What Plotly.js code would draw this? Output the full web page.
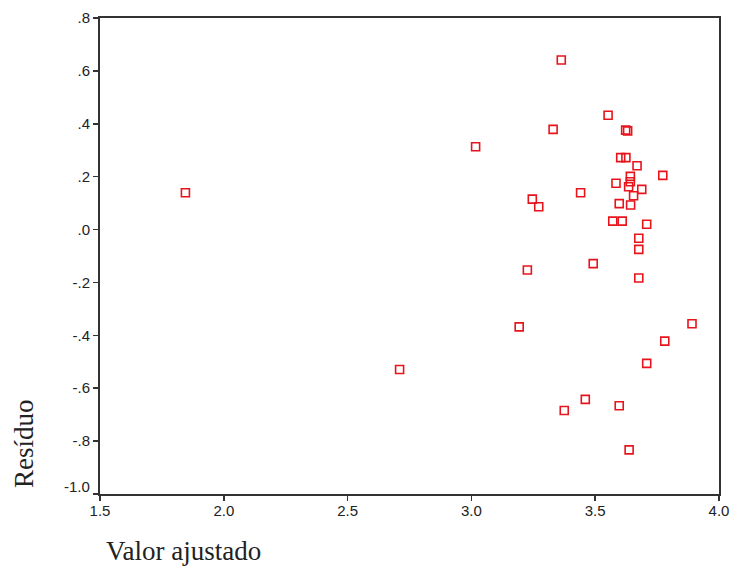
<!DOCTYPE html>
<html>
<head>
<meta charset="utf-8">
<script src="https://cdn.plot.ly/plotly-3.0.1.min.js"></script>
<style>
  html, body { margin: 0; padding: 0; background: #fff; }
  #chart { width: 733px; height: 567px; }
</style>
</head>
<body>
<div id="chart"></div>
<script>
// Fitted values (x) and residuals (y) for each observation
const fittedValues = [
  1.845, 2.710, 3.017, 3.363, 3.330, 3.552, 3.623, 3.631, 3.603, 3.624,
  3.669, 3.773, 3.642, 3.642, 3.584, 3.635, 3.688, 3.441, 3.655, 3.246,
  3.597, 3.643, 3.272, 3.571, 3.609, 3.708, 3.676, 3.676, 3.492, 3.226,
  3.676, 3.891, 3.781, 3.708, 3.193, 3.460, 3.597, 3.375, 3.637
];
const residuals = [
  0.139, -0.529, 0.313, 0.641, 0.379, 0.432, 0.376, 0.373, 0.272, 0.272,
  0.241, 0.205, 0.201, 0.181, 0.175, 0.162, 0.152, 0.139, 0.128, 0.115,
  0.098, 0.093, 0.086, 0.032, 0.032, 0.020, -0.033, -0.075, -0.129, -0.153,
  -0.183, -0.356, -0.422, -0.506, -0.368, -0.642, -0.666, -0.684, -0.833
];

// Axis ticks
const xTickVals = [1.5, 2.0, 2.5, 3.0, 3.5, 4.0];
const xTickText = ["1.5", "2.0", "2.5", "3.0", "3.5", "4.0"];
const yTickVals = [0.8, 0.6, 0.4, 0.2, 0.0, -0.2, -0.4, -0.6, -0.8, -1.0];
const yTickText = [".8", ".6", ".4", ".2", ".0", "-.2", "-.4", "-.6", "-.8", "-1.0"];

const xTitle = "Valor ajustado";
const yTitle = "Resíduo";

const tickFont = { family: "Liberation Sans, Arial, sans-serif", size: 15, color: "#222" };
const titleFont = { family: "Liberation Serif, Times New Roman, serif", size: 27, color: "#222" };

// The lowest y label sits a little above its tick so it clears the x labels
const lastY = yTickVals.length - 1;
const yTickTextShown = yTickText.map((t, i) => (i === lastY ? "" : t));

const trace = {
  type: "scatter",
  mode: "markers",
  x: fittedValues,
  y: residuals,
  marker: {
    symbol: "square-open",
    size: 8,
    color: "#e8141c",
    line: { width: 1.6, color: "#e8141c" }
  },
  hoverinfo: "x+y"
};

const axisCommon = {
  showgrid: false,
  zeroline: false,
  showline: true,
  linecolor: "#333",
  linewidth: 2,
  mirror: true,
  ticks: "outside",
  ticklen: 5,
  tickwidth: 1.5,
  tickcolor: "#333",
  tickfont: tickFont
};

const layout = {
  width: 733,
  height: 567,
  margin: { l: 100, r: 14, t: 18, b: 73 },
  paper_bgcolor: "#fff",
  plot_bgcolor: "#fff",
  showlegend: false,
  xaxis: Object.assign({}, axisCommon, {
    range: [1.5, 4.0],
    tickmode: "array",
    tickvals: xTickVals,
    ticktext: xTickText,
    ticklabelstandoff: -3
  }),
  yaxis: Object.assign({}, axisCommon, {
    range: [-1.0, 0.8],
    tickmode: "array",
    tickvals: yTickVals,
    ticktext: yTickTextShown
  }),
  annotations: [
    {
      text: yTickText[lastY],
      xref: "paper", yref: "y",
      x: 0, y: yTickVals[lastY],
      xanchor: "right", yanchor: "middle",
      xshift: -8, yshift: 8,
      showarrow: false,
      font: tickFont
    },
    {
      text: xTitle,
      xref: "paper", yref: "paper",
      x: 0.006, y: -0.12,
      xanchor: "left", yanchor: "middle",
      showarrow: false,
      font: titleFont
    },
    {
      text: yTitle,
      xref: "paper", yref: "paper",
      x: -0.123, y: 0.107,
      xanchor: "center", yanchor: "middle",
      textangle: -90,
      showarrow: false,
      font: titleFont
    }
  ]
};

Plotly.newPlot("chart", [trace], layout, { displayModeBar: false, staticPlot: true });
</script>
</body>
</html>
